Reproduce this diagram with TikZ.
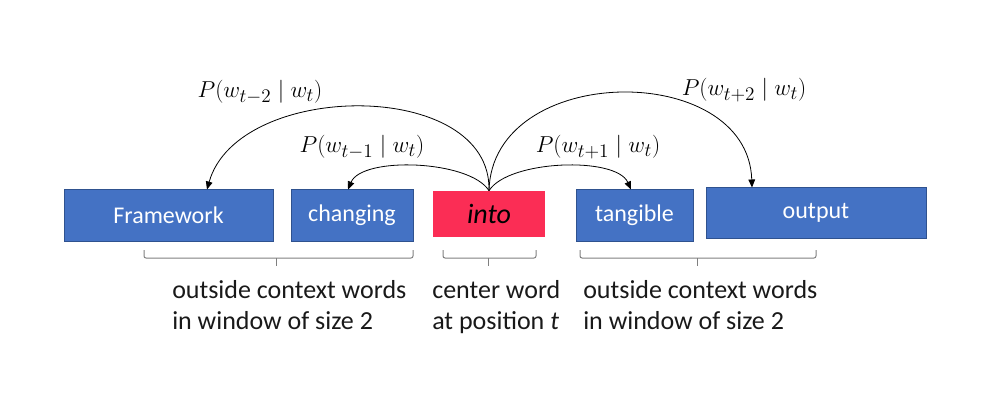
\documentclass[tikz,border=0pt]{standalone}
\usepackage{fontspec}
\setmainfont{Carlito}
\usetikzlibrary{arrows.meta}

\definecolor{wordblue}{HTML}{4472C4}
\definecolor{wordedge}{HTML}{2F528F}
\definecolor{centerred}{HTML}{FB2D55}
\definecolor{bracegray}{HTML}{7F7F7F}

\begin{document}
\begin{tikzpicture}[x=0.75pt, y=-0.75pt, align=center]

    % Styles
    \tikzstyle{word} = [rectangle, draw=wordedge, line width=0.75pt, fill=wordblue, minimum height=38.25pt, text=white, text centered, inner sep=0pt, font=\fontsize{18}{22}\selectfont]
    \tikzstyle{center} = [rectangle, fill=centerred, minimum width=84pt, minimum height=34.5pt, text=black, text centered, inner sep=0pt, font=\fontsize{21}{25}\selectfont\itshape]
    \tikzstyle{prob} = [inner sep=0pt, font=\fontsize{19}{22}\selectfont]
    \tikzstyle{note} = [align=left, inner sep=0pt, anchor=north west, text=black!90, font=\fontsize{19.5}{23.5}\selectfont]
    \tikzstyle{arrow} = [-{Triangle[length=6pt, width=5pt]}, line width=0.6pt, black]
    \tikzstyle{brace} = [draw=bracegray, line width=0.75pt, rounded corners=1.5pt]

    \useasboundingbox (0,0) rectangle (996,406);

    % Word boxes
    \node[word, minimum width=156.75pt] (framework) at (168.5,215.5) {Framework};
    \node[word, minimum width=91.5pt] (changing) at (352,215.5) {changing};
    \node[center] (into) at (489,214) {into}; % Center word
    \node[word, minimum width=87.75pt] (tangible) at (634.5,215.5) {tangible};
    \node[word, minimum width=165pt, minimum height=37.5pt] (output) at (816,213) {output};

    % Probabilities
    \node[prob] (p_minus_two) at (260,92) {$P(w_{t-2}\mid w_t)$};
    \node[prob] (p_minus_one) at (362,147) {$P(w_{t-1}\mid w_t)$};
    \node[prob] (p_plus_one) at (598,147) {$P(w_{t+1}\mid w_t)$};
    \node[prob] (p_plus_two) at (744,90) {$P(w_{t+2}\mid w_t)$};

    % Arrows
    \draw[arrow] (into.north) .. controls (492,78) and (238,80) .. ([xshift=28.875pt]framework.north);
    \draw[arrow] (into.north) .. controls (470,160) and (362,156) .. ([xshift=-3pt]changing.north);
    \draw[arrow] (into.north) .. controls (508,160) and (616,156) .. ([xshift=-2.625pt]tangible.north);
    \draw[arrow] (into.north) .. controls (492,62) and (748,60) .. ([xshift=-48pt]output.north);

    % Braces
    \draw[brace] (144,250) -- (144,258) -- (413,258) -- (413,250);
    \draw[bracegray, line width=0.75pt] (276,258) -- (276,266);
    \draw[brace] (443,250) -- (443,258) -- (536,258) -- (536,250);
    \draw[bracegray, line width=0.75pt] (488,258) -- (488,266);
    \draw[brace] (580,250) -- (580,258) -- (816,258) -- (816,250);
    \draw[bracegray, line width=0.75pt] (697,258) -- (697,266);

    % Notes
    \node[note] (left_note) at (172,280) {outside context words\\in window of size 2};
    \node[note] (center_note) at (432,280) {center word\\at position \textit{t}};
    \node[note] (right_note) at (583,280) {outside context words\\in window of size 2};

\end{tikzpicture}
\end{document}
